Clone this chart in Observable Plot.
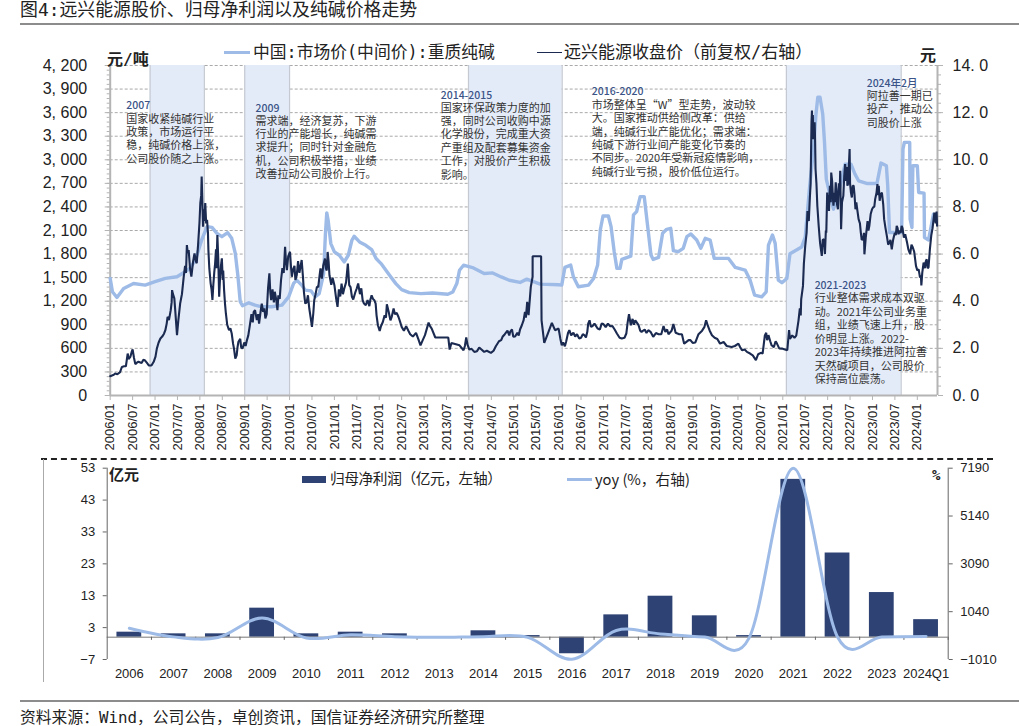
<!DOCTYPE html>
<html><head><meta charset="utf-8">
<script src="https://cdn.jsdelivr.net/npm/d3@7"></script>
<script src="https://cdn.jsdelivr.net/npm/@observablehq/plot@0.6"></script>
<style>
html,body{margin:0;padding:0;background:#fff}
#page{position:relative;width:1019px;height:726px;overflow:hidden;font-family:"DejaVu Sans Mono","Noto Sans CJK SC",sans-serif;color:#222}
#page>*{position:absolute}
#page svg{background:transparent;overflow:visible}
.t{white-space:nowrap;line-height:1}
</style></head><body><div id="page"></div>
<script>
// ---------- top chart data ----------
const priceDates=[2006.00,2006.05,2006.15,2006.30,2006.52,2006.78,2007.00,2007.23,2007.49,2007.67,2007.78,2007.90,2008.04,2008.16,2008.27,2008.38,2008.49,2008.62,2008.71,2008.79,2008.85,2008.90,2008.95,2009.09,2009.23,2009.38,2009.60,2009.83,2009.98,2010.09,2010.16,2010.27,2010.35,2010.48,2010.57,2010.66,2010.76,2010.80,2010.83,2010.86,2010.92,2011.00,2011.11,2011.22,2011.31,2011.39,2011.44,2011.56,2011.70,2011.83,2011.93,2012.04,2012.23,2012.37,2012.50,2012.67,2012.93,2013.19,2013.53,2013.64,2013.73,2013.79,2013.88,2014.08,2014.34,2014.53,2014.72,2014.90,2015.14,2015.29,2015.59,2016.00,2016.07,2016.14,2016.27,2016.33,2016.44,2016.67,2016.78,2016.87,2016.93,2016.99,2017.11,2017.17,2017.24,2017.30,2017.37,2017.41,2017.61,2017.67,2017.74,2017.82,2017.91,2017.97,2018.06,2018.11,2018.23,2018.32,2018.41,2018.50,2018.56,2018.67,2018.78,2018.86,2018.95,2019.08,2019.17,2019.27,2019.38,2019.47,2019.79,2019.94,2020.16,2020.27,2020.37,2020.53,2020.63,2020.68,2020.77,2020.83,2020.90,2020.98,2021.09,2021.16,2021.42,2021.50,2021.60,2021.68,2021.74,2021.78,2021.83,2021.89,2021.93,2021.97,2022.04,2022.13,2022.28,2022.39,2022.52,2022.61,2022.69,2022.87,2023.10,2023.19,2023.31,2023.34,2023.38,2023.65,2023.68,2023.71,2023.83,2023.84,2023.88,2023.90,2024.00,2024.03,2024.15,2024.16,2024.25,2024.31,2024.36];
const priceValues=[1490,1320,1248,1363,1426,1405,1448,1490,1511,1575,1618,1724,1979,2149,2140,2064,2021,2072,2000,1809,1511,1193,1142,1180,1150,1129,1129,1150,1256,1426,1469,1405,1341,1331,1255,1297,1552,2061,2324,2231,1934,1827,1785,1700,1785,1976,2027,1955,1912,1857,1743,1679,1530,1424,1348,1310,1297,1305,1289,1318,1424,1594,1658,1628,1552,1560,1509,1467,1439,1481,1418,1409,1405,1630,1660,1511,1384,1405,1490,1660,2106,2285,2285,2149,1830,1618,1618,1732,1775,2298,2340,2531,2531,2234,1788,1732,1758,2064,2115,2128,1843,1830,1873,2021,2055,1979,1873,2000,1979,1745,1745,1630,1596,1469,1278,1256,1320,1915,2043,1936,1469,1435,1490,1804,1889,2016,2669,3094,3583,3795,3795,3583,3221,2754,2584,2371,2669,2945,2945,2818,2733,2699,2699,2958,2924,2669,2074,2074,3136,3221,3221,2244,2138,2924,2924,2584,2575,2010,1980,2159,2308];
const stockDates=[2006.00,2006.11,2006.22,2006.26,2006.35,2006.39,2006.45,2006.50,2006.56,2006.63,2006.77,2006.86,2006.97,2007.04,2007.12,2007.23,2007.28,2007.35,2007.38,2007.43,2007.45,2007.49,2007.56,2007.64,2007.71,2007.75,2007.81,2007.88,2007.93,2008.01,2008.04,2008.07,2008.12,2008.16,2008.19,2008.24,2008.28,2008.34,2008.39,2008.43,2008.49,2008.54,2008.58,2008.65,2008.71,2008.79,2008.86,2008.95,2009.05,2009.12,2009.23,2009.32,2009.38,2009.46,2009.55,2009.59,2009.67,2009.73,2009.81,2009.90,2009.94,2010.01,2010.05,2010.13,2010.27,2010.35,2010.44,2010.50,2010.55,2010.61,2010.69,2010.72,2010.79,2010.81,2010.85,2010.89,2011.00,2011.07,2011.16,2011.22,2011.30,2011.33,2011.42,2011.53,2011.63,2011.70,2011.78,2011.83,2011.89,2011.97,2012.01,2012.08,2012.17,2012.25,2012.32,2012.43,2012.50,2012.60,2012.69,2012.82,2012.92,2013.02,2013.10,2013.17,2013.25,2013.54,2013.57,2013.61,2013.79,2013.88,2013.94,2014.01,2014.12,2014.23,2014.34,2014.49,2014.60,2014.75,2014.92,2014.99,2015.08,2015.18,2015.25,2015.30,2015.33,2015.38,2015.42,2015.421,2015.61,2015.62,2015.68,2015.76,2015.85,2015.92,2016.00,2016.07,2016.14,2016.24,2016.33,2016.46,2016.54,2016.61,2016.69,2016.72,2016.87,2017.00,2017.15,2017.30,2017.41,2017.51,2017.57,2017.61,2017.71,2017.85,2018.00,2018.11,2018.23,2018.34,2018.45,2018.56,2018.61,2018.75,2018.80,2018.90,2018.99,2019.12,2019.29,2019.42,2019.60,2019.68,2019.86,2020.01,2020.09,2020.27,2020.40,2020.51,2020.55,2020.63,2020.68,2020.75,2020.87,2020.98,2021.10,2021.14,2021.16,2021.30,2021.35,2021.41,2021.45,2021.50,2021.55,2021.60,2021.63,2021.65,2021.68,2021.71,2021.73,2021.77,2021.83,2021.87,2021.92,2021.97,2021.99,2022.03,2022.08,2022.13,2022.18,2022.23,2022.28,2022.30,2022.35,2022.39,2022.44,2022.49,2022.52,2022.58,2022.64,2022.69,2022.74,2022.79,2022.82,2022.87,2022.93,2022.99,2023.06,2023.11,2023.16,2023.21,2023.26,2023.32,2023.38,2023.43,2023.48,2023.54,2023.58,2023.65,2023.73,2023.80,2023.90,2023.97,2024.03,2024.09,2024.14,2024.21,2024.25,2024.31,2024.38,2024.44];
const stockValues=[0.82,0.93,0.99,1.21,1.24,1.78,1.64,1.96,1.33,1.43,1.50,1.28,1.43,1.99,2.42,2.77,3.34,3.62,4.47,4.12,3.62,2.56,3.90,5.04,6.38,6.17,5.04,6.03,5.61,8.16,9.29,7.16,8.16,7.45,6.17,4.76,4.05,5.61,6.81,4.19,5.82,4.47,3.48,2.77,2.63,1.57,2.28,1.99,2.35,3.05,3.62,3.05,3.90,3.27,5.18,4.05,4.40,3.62,4.90,6.31,5.32,6.10,5.04,4.90,5.75,3.90,3.69,2.91,4.04,4.61,5.39,4.96,5.81,5.39,6.09,5.10,4.68,3.76,4.75,4.54,5.60,4.68,4.07,4.75,4.04,3.83,3.79,4.25,4.04,2.98,2.74,3.12,3.87,3.19,3.69,3.33,2.91,2.94,2.60,2.66,2.13,2.56,3.09,2.84,2.46,2.46,1.95,2.23,2.13,1.92,2.46,1.95,1.85,2.03,1.85,1.81,2.09,2.49,2.70,2.49,2.66,2.98,3.55,3.97,3.41,4.61,5.04,5.91,5.91,3.19,2.23,2.63,3.08,2.77,2.84,2.13,2.09,2.77,2.66,2.42,2.60,2.46,3.19,2.91,2.84,3.03,2.94,2.63,2.42,2.63,3.45,2.98,3.19,2.70,2.77,2.49,2.60,2.95,2.60,3.03,2.66,2.60,2.20,2.35,2.23,2.60,3.19,2.56,2.20,2.27,2.06,2.20,1.92,1.78,1.50,1.81,1.78,2.66,2.56,2.13,2.20,1.99,1.92,2.77,2.40,2.54,3.18,4.08,4.65,6.35,7.83,8.26,10.31,12.09,10.88,11.59,9.61,8.05,6.49,5.92,6.63,6.91,8.61,7.83,9.46,8.05,9.04,7.90,9.53,7.05,8.47,9.82,8.90,10.46,8.61,8.90,8.19,7.48,6.91,6.63,5.99,7.05,7.20,7.90,8.33,8.97,8.26,8.61,7.48,6.77,6.49,6.20,6.77,7.20,6.84,7.20,6.84,6.20,6.28,5.50,5.35,4.67,5.64,5.78,5.43,6.77,7.76,7.20];
// finer wiggles of the same line, read between the points above
const stockDetail=[[2006.08,0.88],[2006.16,0.90],[2006.31,1.24],[2006.41,1.55],[2006.48,1.85],[2006.53,1.60],[2006.60,1.40],[2006.70,1.38],[2006.74,1.52],[2006.82,1.38],[2006.92,1.27],[2007.01,1.65],[2007.08,2.25],[2007.16,2.50],[2007.20,2.62],[2007.26,3.05],[2007.31,3.20],[2007.37,3.95],[2007.40,4.30],[2007.52,3.20],[2007.60,4.30],[2007.67,5.50],[2007.69,5.20],[2007.73,6.05],[2007.78,5.40],[2007.85,5.70],[2007.91,5.70],[2007.96,6.40],[2007.99,7.30],[2008.03,8.50],[2008.05,8.60],[2008.09,7.90],[2008.10,7.40],[2008.14,7.30],[2008.18,6.90],[2008.21,5.40],[2008.26,4.50],[2008.30,4.70],[2008.32,5.20],[2008.36,6.20],[2008.37,5.40],[2008.41,5.80],[2008.45,5.00],[2008.47,5.50],[2008.51,4.90],[2008.52,5.30],[2008.56,3.90],[2008.61,3.00],[2008.68,2.85],[2008.74,2.20],[2008.76,2.00],[2008.82,1.70],[2008.84,2.05],[2008.90,2.40],[2008.92,2.05],[2008.99,2.25],[2009.02,2.10],[2009.08,2.55],[2009.15,3.45],[2009.18,3.10],[2009.20,3.55],[2009.27,3.20],[2009.30,3.45],[2009.35,3.50],[2009.41,3.55],[2009.44,3.70],[2009.49,3.45],[2009.52,4.55],[2009.57,4.40],[2009.62,4.50],[2009.65,3.95],[2009.70,4.10],[2009.75,4.25],[2009.78,4.10],[2009.84,5.40],[2009.87,5.20],[2009.92,5.70],[2009.97,5.90],[2010.03,5.50],[2010.08,5.35],[2010.11,5.50],[2010.16,5.10],[2010.19,5.70],[2010.22,5.20],[2010.30,5.00],[2010.32,4.40],[2010.38,3.95],[2010.41,4.25],[2010.47,3.30],[2010.53,3.50],[2010.58,4.30],[2010.64,4.60],[2010.67,5.10],[2010.75,5.50],[2010.83,5.30],[2010.87,5.70],[2010.93,4.70],[2010.96,5.00],[2011.04,4.10],[2011.10,4.50],[2011.13,4.20],[2011.19,4.30],[2011.26,4.80],[2011.36,4.60],[2011.39,4.20],[2011.47,4.40],[2011.50,4.55],[2011.57,4.30],[2011.60,4.55],[2011.66,3.90],[2011.74,4.05],[2011.80,4.05],[2011.86,4.10],[2011.92,3.90],[2011.94,3.40],[2012.04,2.95],[2012.12,3.40],[2012.15,3.30],[2012.21,3.55],[2012.28,3.35],[2012.35,3.45],[2012.39,3.50],[2012.47,3.10],[2012.55,2.75],[2012.65,2.75],[2012.75,2.50],[2012.87,2.40],[2012.97,2.35],[2013.13,2.95],[2013.91,2.10],[2013.97,2.15],[2014.06,1.98],[2014.18,1.88],[2014.28,1.95],[2014.40,1.90],[2014.55,1.90],[2014.67,2.30],[2014.72,2.35],[2014.80,2.60],[2014.86,2.75],[2014.90,2.55],[2014.96,2.80],[2015.03,2.50],[2015.11,2.55],[2015.14,2.80],[2015.22,3.20],[2015.27,3.30],[2016.04,2.40],[2016.10,2.25],[2016.17,2.30],[2016.21,2.65],[2016.28,2.55],[2016.37,2.50],[2016.41,2.60],[2016.50,2.45],[2016.58,2.55],[2016.64,2.70],[2016.66,3.05],[2016.76,2.95],[2016.80,3.05],[2016.92,2.80],[2016.96,3.05],[2017.05,2.90],[2017.10,3.05],[2017.20,2.95],[2017.25,2.80],[2017.36,2.45],[2017.47,2.45],[2017.54,3.10],[2017.65,3.25],[2017.68,3.00],[2017.78,3.00],[2017.82,2.75],[2017.92,2.80],[2017.96,2.65],[2018.05,2.70],[2018.17,2.65],[2018.29,2.60],[2018.38,2.70],[2018.42,2.80],[2018.52,2.75],[2018.69,2.60],[2018.94,2.35],[2019.05,2.25],[2019.20,2.75],[2019.25,2.90],[2019.33,2.95],[2019.37,2.75],[2019.48,2.45],[2019.54,2.40],[2019.75,2.10],[2019.93,2.10],[2020.05,2.05],[2020.15,1.95],[2020.20,1.85],[2020.33,1.70],[2020.45,1.75],[2020.60,2.55],[2020.65,2.35],[2020.72,2.30],[2020.80,2.05],[2020.84,2.30],[2020.92,2.00],[2021.21,2.55],[2021.26,2.45],[2021.38,3.70],[2021.40,3.40],[2021.47,5.60],[2021.53,6.90],[2021.58,7.40],[2021.62,9.00],[2021.64,11.6],[2021.66,11.2],[2021.67,11.9],[2021.70,11.0],[2021.72,10.9],[2021.75,9.0],[2021.80,7.2],[2021.85,6.2],[2021.89,6.6],[2021.94,6.0],[2021.96,7.0],[2022.00,8.0],[2022.02,8.5],[2022.05,8.9],[2022.07,8.2],[2022.10,9.1],[2022.12,8.3],[2022.15,8.6],[2022.16,8.2],[2022.20,8.6],[2022.21,8.1],[2022.25,9.0],[2022.27,8.7],[2022.32,8.2],[2022.37,9.3],[2022.41,9.1],[2022.43,9.7],[2022.46,9.0],[2022.47,9.6],[2022.50,9.0],[2022.54,8.4],[2022.56,8.9],[2022.60,8.5],[2022.62,7.9],[2022.66,7.9],[2022.72,7.3],[2022.76,6.6],[2022.81,6.9],[2022.85,6.7],[2022.89,7.4],[2022.91,7.0],[2022.96,7.7],[2023.02,8.0],[2023.04,8.0],[2023.09,8.6],[2023.13,8.5],[2023.14,8.9],[2023.18,8.5],[2023.24,8.1],[2023.29,7.1],[2023.35,6.4],[2023.40,6.6],[2023.46,6.6],[2023.50,6.9],[2023.52,6.8],[2023.56,7.1],[2023.60,7.0],[2023.63,6.9],[2023.67,7.1],[2023.70,6.7],[2023.77,6.5],[2023.84,6.0],[2023.87,6.4],[2023.93,6.1],[2024.00,5.3],[2024.06,5.0],[2024.08,5.1],[2024.11,5.2],[2024.17,5.4],[2024.19,5.7],[2024.23,5.4],[2024.28,6.2],[2024.34,7.1],[2024.41,7.3],[2024.43,7.8]];
const bandStarts=[2006.89,2009.00,2013.99,2021.08];
const bandEnds=[2008.10,2010.00,2016.08,2023.64];
const noteYears=[2006.36,2009.24,2013.37,2016.74,2022.87,2021.71];
const noteHeadLevels=[3691,3656,3818,3869,3971,1400];
const noteBodyLevels=[3595,3570,3735,3770,3884,1305];
const noteHeads=["2007","2009","2014-2015","2016-2020","2024年2月","2021-2023"];
const noteBodies=[
"国家收紧纯碱行业\n政策\uFF0C市场运行平\n稳\uFF0C纯碱价格上涨\uFF0C\n公司股价随之上涨。",
"需求端\uFF0C经济复苏\uFF0C下游\n行业的产能增长\uFF0C纯碱需\n求提升\uFF1B同时针对金融危\n机\uFF0C公司积极举措\uFF0C业绩\n改善拉动公司股价上行。",
"国家环保政策力度的加\n强\uFF0C同时公司收购中源\n化学股份\uFF0C完成重大资\n产重组及配套募集资金\n工作\uFF0C对股价产生积极\n影响。",
"市场整体呈\u201CW\u201D型走势\uFF0C波动较\n大。国家推动供给侧改革\uFF1A供给\n端\uFF0C纯碱行业产能优化\uFF1B需求端\uFF1A\n纯碱下游行业间产能变化节奏的\n不同步。2020年受新冠疫情影响\uFF0C\n纯碱行业亏损\uFF0C股价低位运行。",
"阿拉善一期已\n投产\uFF0C推动公\n司股价上涨",
"行业整体需求成本双驱\n动。2021年公司业务重\n组\uFF0C业绩飞速上升\uFF0C股\n价明显上涨。2022-\n2023年持续推进阿拉善\n天然碱项目\uFF0C公司股价\n保持高位震荡。"];
const leftTicks=d3.range(0,4201,300);
const rightTicks=[0,600,1200,1800,2400,3000,3600,4200];
const xTicks=d3.range(2006,2024.01,0.5);
// ---------- bottom chart data ----------
const years=["2006","2007","2008","2009","2010","2011","2012","2013","2014","2015","2016","2017","2018","2019","2020","2021","2022","2023","2024Q1"];
const profit=[1.57,1.05,1.05,9.1,1.05,1.57,1.05,0.1,2.0,0.5,-5.2,7.0,12.85,6.7,0.5,49.5,26.4,14,5.5];
const yoy=[330,-40,-70,770,-88,50,-33,-60,-30,-60,-1000,235,84,-48,-92,7190,-47,-47,-20];
const profitTicks=[-7,3,13,23,33,43,53];
const yoyTicks=[-1010,1040,3090,5140,7190];

const YUAN=300; // right axis: 14 yuan = 4200 yuan/ton
const navy="#1b2a50", sky="#9dbbe6", gridC="#a9a9a9", axisC="#b4b4b4";
const fontZh='"Noto Sans CJK SC","Liberation Sans",sans-serif';
const fontNum='"Liberation Sans",sans-serif';
const price=priceDates.map((t,i)=>({t,v:priceValues[i]}));
const stock=stockDates.map((t,i)=>({t,v:stockValues[i]*YUAN}))
  .concat(stockDetail.map(([t,y])=>({t,v:y*YUAN})))
  .sort((a,b)=>a.t-b.t);
const bands=bandStarts.map((a,i)=>({a,b:bandEnds[i]}));
const notes=noteYears.map((x,i)=>({x,h:noteHeadLevels[i],b:noteBodyLevels[i],head:noteHeads[i],body:noteBodies[i]}));

const upperChart=Plot.plot({
  width:1019,height:420,marginTop:25,marginBottom:65,marginLeft:109.7,marginRight:82,
  style:{fontFamily:fontNum,background:"transparent"},
  x:{type:"linear",domain:[2006,2024.45],axis:null},
  y:{domain:[0,4200],axis:null},
  marks:[
    Plot.gridY(leftTicks,{stroke:gridC,strokeOpacity:1,strokeDasharray:"3,2",strokeWidth:1}),
    Plot.rectY(bands,{x1:"a",x2:"b",y1:0,y2:4200,fill:"#e4ebf8"}),
    Plot.ruleX(bandStarts.concat(bandEnds),{stroke:"#c5cad2",strokeWidth:1.2,y1:0,y2:4200}),
    Plot.ruleY([0],{stroke:axisC,strokeWidth:2}),
    Plot.ruleX([2006,2024.45],{stroke:axisC,strokeWidth:2,y1:0,y2:4200}),
    Plot.axisY(d3.range(0,4201,60),{anchor:"left",tickSize:3,tickFormat:()=>"",stroke:axisC,label:null}),
    Plot.axisY(leftTicks,{anchor:"left",tickSize:5,tickPadding:18,fontSize:16,fill:"#222",stroke:axisC,label:null,
      tickFormat:d=>d3.format(",")(d).replace(",",", ")}),
    Plot.axisY(d3.range(0,4201,120),{anchor:"right",tickSize:3,tickFormat:()=>"",stroke:axisC,label:null}),
    Plot.axisY(rightTicks,{anchor:"right",tickSize:5,tickPadding:10,fontSize:16,fill:"#222",stroke:axisC,label:null,
      tickFormat:d=>(d/YUAN).toFixed(1).replace(".",". ")}),
    Plot.axisX(xTicks,{anchor:"bottom",tickSize:5,tickPadding:3,tickRotate:-90,fontSize:13,fill:"#222",stroke:axisC,label:null,
      tickFormat:d=>`${Math.floor(d)}/${d%1?"07":"01"}`}),
    Plot.line(price,{x:"t",y:"v",stroke:sky,strokeWidth:3.4,curve:"linear"}),
    Plot.line(stock,{x:"t",y:"v",stroke:navy,strokeWidth:2.1,curve:"linear",strokeLinejoin:"miter"}),
    Plot.text(notes,{x:"x",y:"h",text:"head",textAnchor:"start",fontSize:10.5,fontWeight:500,fill:"#3a5488",fontFamily:fontZh}),
    Plot.text(notes,{x:"x",y:"b",text:"body",textAnchor:"start",lineAnchor:"top",fontSize:11,lineHeight:1.22,fill:"#333",fontFamily:fontZh})
  ]
});
const lowerChart=Plot.plot({
  width:1019,height:231,marginTop:8.7,marginBottom:31,marginLeft:106.7,marginRight:71.3,
  style:{fontFamily:fontNum,background:"transparent"},
  x:{domain:years,paddingInner:0.44,paddingOuter:0.22,round:false,axis:null},
  y:{domain:[-7,53],axis:null},
  marks:[
    Plot.barY(years.map((c,i)=>({c,v:profit[i]})),{x:"c",y:"v",fill:"#2e4374"}),
    Plot.ruleY([0],{stroke:"#777",strokeWidth:1}),
    Plot.ruleX(years,{x:d=>d,y1:0,y2:-1,dx:22.13,stroke:"#666"}),
    Plot.axisY(profitTicks,{anchor:"left",tickSize:4,tickPadding:8,fontSize:13,fill:"#222",stroke:"#666",label:null,
      tickFormat:d=>d<0?"−"+(-d):String(d)}),
    Plot.ruleX([years[0]],{x:d=>d,y1:-7,y2:53,dx:-22.13,stroke:"#666"}),
    Plot.ruleX([years[18]],{x:d=>d,y1:-7,y2:53,dx:22.13,stroke:"#666"}),
    Plot.axisY(yoyTicks.map(v=>-7+(v+1010)*60/8200),{anchor:"right",tickSize:4,tickPadding:8,fontSize:13,fill:"#222",stroke:"#666",label:null,
      tickFormat:d=>{const v=Math.round((d+7)*8200/60-1010);return v<0?"−"+(-v):String(v)}}),
    Plot.axisX(years,{anchor:"bottom",tickSize:0,tickPadding:9,fontSize:13,fill:"#222",label:null,tickFormat:d=>d}),
    Plot.line(years.map((c,i)=>({c,v:-7+(yoy[i]+1010)*60/8200})),{x:"c",y:"v",stroke:sky,strokeWidth:3,curve:"cardinal",tension:0})
  ]
});
const page=document.getElementById("page");
function place(el,l,t){el.style.left=l+"px";el.style.top=t+"px";page.appendChild(el);return el}
function label(s,l,cy,fs,extra){const d=document.createElement("div");d.className="t";d.textContent=s;d.style.fontSize=fs+"px";d.style.marginTop=(-fs/2)+"px";if(extra)Object.assign(d.style,extra);return place(d,l,cy)}
function box(l,t,w,h,css){const d=document.createElement("div");d.style.width=w+"px";d.style.height=h+"px";Object.assign(d.style,css);return place(d,l,t)}
place(upperChart,0,40); place(lowerChart,0,459);
label("图4:远兴能源股价、归母净利润以及纯碱价格走势",20,10,17.9);
box(20,23,999,1.5,{background:"#8c8c8c"});
box(224,51,26,3,{background:sky});
label("中国:市场价(中间价):重质纯碱",253,52,16.8);
box(537,51.5,25,1.8,{background:navy});
label("远兴能源收盘价\uFF08前复权/右轴\uFF09",564,52,17);
label("元/吨",107,60,16,{fontWeight:700});
label("元",920,56,16,{fontWeight:700});
box(41,458,952,0,{borderTop:"2px dashed #222"});
box(43,459,1.2,223,{background:"#aaa"});
label("亿元",109,475,15,{fontWeight:700});
label("%",932,475,14,{fontWeight:700});
box(302,476,24,7,{background:"#2e4374"});
label("归母净利润\uFF08亿元\uFF0C左轴\uFF09",330,479,14.7,{letterSpacing:"-0.4px"});
box(567,477.5,25,3,{background:sky});
label("yoy (%\uFF0C右轴)",595,479,14.7,{fontFamily:fontZh});
box(20,700,999,1.5,{background:"#8c8c8c"});
label("资料来源\uFF1AWind\uFF0C公司公告\uFF0C卓创资讯\uFF0C国信证券经济研究所整理",20,718,15.8);
</script></body></html>
